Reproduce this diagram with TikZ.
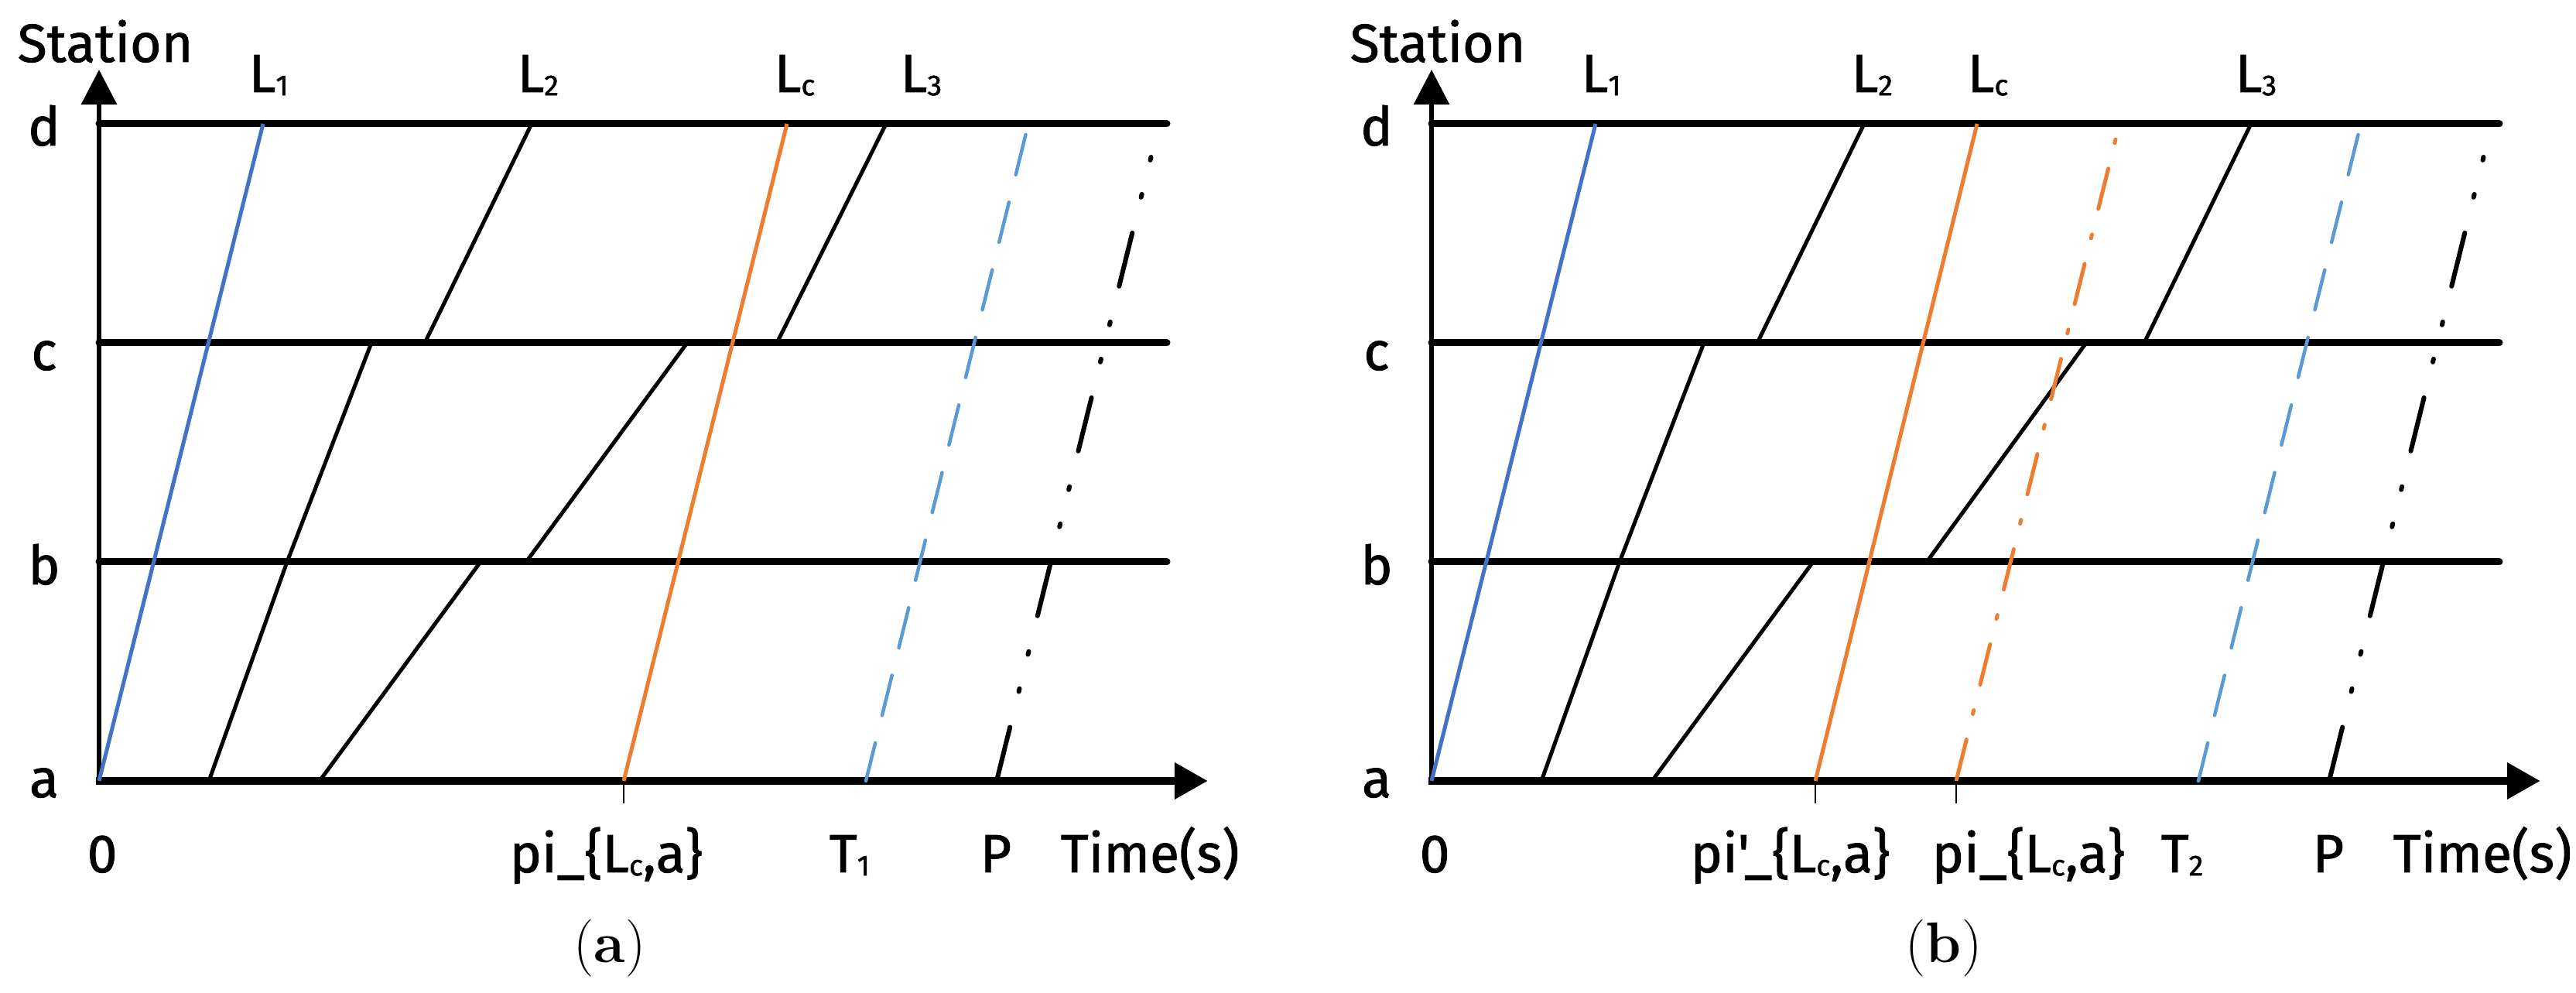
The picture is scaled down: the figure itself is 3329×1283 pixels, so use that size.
\documentclass[tikz,border=0pt]{standalone}
\usepackage{fontspec}
\newfontfamily\labfont{Fira Sans}[FakeBold=1.2]
\usetikzlibrary{arrows.meta}
\definecolor{cblue}{HTML}{4472C4}
\definecolor{corange}{HTML}{ED7D31}
\definecolor{clblue}{HTML}{5B9BD5}
\newcommand\lsub[1]{\raisebox{-1.2pt}{\fontsize{10.7}{11}\selectfont #1}}
\tikzset{
  lab/.style={font={\labfont\fontsize{19.8}{20}\selectfont}, inner sep=0pt, anchor=base west},
  rowlab/.style={font={\labfont\fontsize{19.8}{20}\selectfont}, inner sep=0pt, anchor=base},
  captext/.style={font={\fontsize{21}{21}\selectfont}, inner sep=0pt, anchor=base},
  stline/.style={line width=0.09cm, line cap=round},
  yaxis/.style={line width=0.06cm, -{Triangle[length=0.45cm,width=0.45cm]}},
  xaxis/.style={line width=0.1cm, -{Triangle[length=0.43cm,width=0.45cm]}},
  train/.style={line width=0.05cm, line join=round},
  tickline/.style={line width=0.02cm},
  tdash/.style={line width=0.045cm, line cap=round, clblue, dash pattern=on 0.532cm off 0.367cm},
  pdash/.style={line width=0.06cm, line cap=round, dash pattern=on 0.04cm off 0.454cm on 0.04cm off 0.474cm on 0.71cm off 0.474cm},
  odash/.style={line width=0.05cm, line cap=round, corange, dash pattern=on 0.05cm off 0.34cm on 0.536cm off 0.34cm},
}
\newcommand\panelbase[2]{%
  \coordinate (#1o) at (128,1009);
  \coordinate (#1yt) at (128,90);
  \coordinate (#1xt) at (1561,1009);
  \foreach \yy/\nm in {160/d,443/c,726/b} {
    \coordinate (#1l\nm) at (128,\yy);
    \coordinate (#1r\nm) at (1508,\yy);
    \draw[stline] (#1l\nm) -- (#1r\nm);
  }
  \foreach \bl/\nm in {188/d,478/c,755/b,1030/a} {
    \node[rowlab] (#1row\nm) at (57,\bl) {\nm};
  }
  \draw[yaxis] (128,1013) -- (#1yt);
  \draw[xaxis] (124,1009) -- (#1xt);
  % L1
  \draw[train, cblue] (#1o) -- (340,160);
  % L2
  \draw[train] (270,1009) -- (371,726) -- (480,443) -- (549,443) -- (687,160);
  % T dashed
  \draw[tdash] (1325.5,174) -- (1119,1009);
  % P dash-dot-dot
  \draw[pdash] (1487.5,203) -- (1288,1009);
  \node[lab] (#1station) at (22,80) {Station};
  \node[lab] (#1L1) at (321,119) {L\lsub{1}};
  \node[lab] (#1zero) at (112,1127) {0};
  \node[lab] (#1P) at (1266,1127) {P};
  \node[lab] (#1time) at (1370,1127) {Time(s)};
}
\begin{document}
\begin{tikzpicture}[x=0.01cm,y=-0.01cm]
\useasboundingbox (0,0) rectangle (3329,1283);
% ---------- panel (a)
\begin{scope}
  \panelbase{a}{1}
  \draw[train] (413,1009) -- (621,726) -- (680,726) -- (888,443) -- (1004,443) -- (1145,160);
  \draw[train, corange] (806,1009) -- (1017,160);
  \draw[tickline] (806,1009) -- (806,1038);
  \node[lab] (aL2) at (668,119) {L\lsub{2}};
  \node[lab] (aLc) at (1000,119) {L\lsub{c}};
  \node[lab] (aL3) at (1163,119) {L\lsub{3}};
  \node[lab] (api) at (658,1127) {pi\_\{L\lsub{c},a\}};
  \node[lab] (aT) at (1071,1127) {T\lsub{1}};
  \node[captext] (acap) at (788,1244) {(\textbf{a})};
\end{scope}
% ---------- panel (b)
\begin{scope}[xshift=17.21cm]
  \panelbase{b}{2}
  \draw[train] (413,1009) -- (621,726) -- (768,726) -- (974,443) -- (1049,443) -- (1187,160);
  \draw[train, corange] (624,1009) -- (833,160);
  \draw[odash] (1012,180) -- (806,1009);
  \draw[tickline] (624,1009) -- (624,1038);
  \draw[tickline] (806,1009) -- (806,1038);
  \node[lab] (bL2) at (670,119) {L\lsub{2}};
  \node[lab] (bLc) at (820,119) {L\lsub{c}};
  \node[lab] (bL3) at (1166,119) {L\lsub{3}};
  \node[lab] (bpip) at (462,1127) {pi'\_\{L\lsub{c},a\}};
  \node[lab] (bpi) at (774,1127) {pi\_\{L\lsub{c},a\}};
  \node[lab] (bT) at (1070,1127) {T\lsub{2}};
  \node[captext] (bcap) at (790,1244) {(\textbf{b})};
\end{scope}
\end{tikzpicture}
\end{document}
